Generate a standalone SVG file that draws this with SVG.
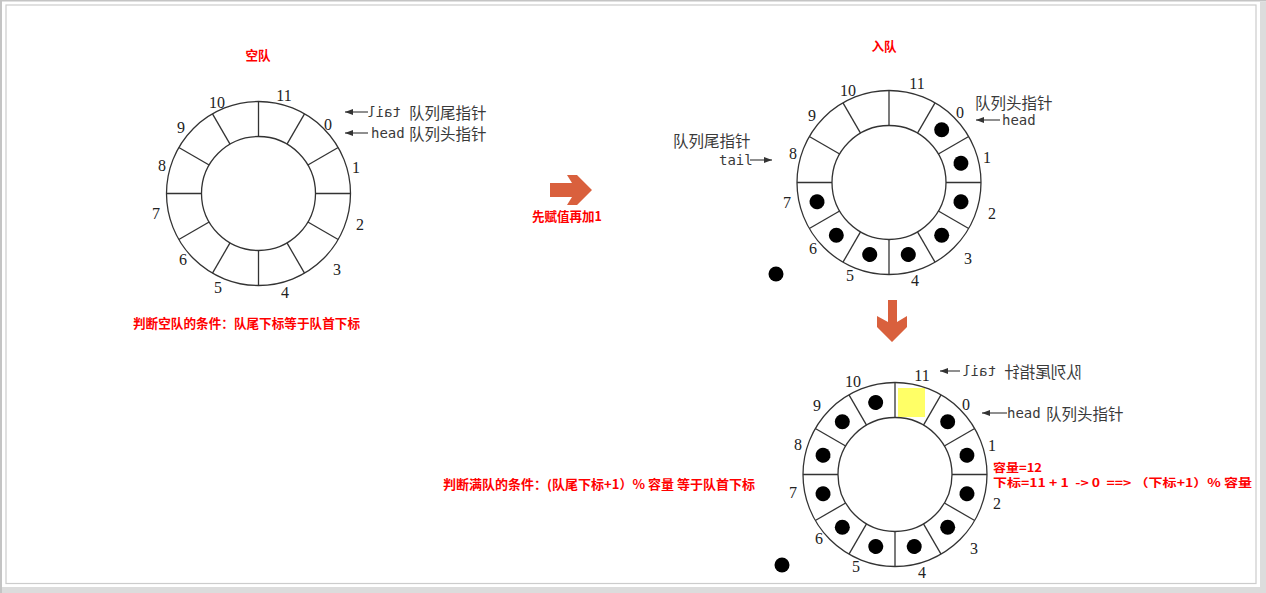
<svg xmlns="http://www.w3.org/2000/svg" xmlns:xlink="http://www.w3.org/1999/xlink" width="1266" height="593" viewBox="0 0 1266 593">
<style>
.ring{fill:none;stroke:#333;stroke-width:1.3}
.num{font-family:"Liberation Serif",serif;font-size:16px;fill:#222;text-anchor:middle;dominant-baseline:central}
.cn{font-family:"Noto Sans CJK SC","Noto Sans",sans-serif;font-size:15.5px;fill:#3a3a3a;dominant-baseline:central}
.mono{font-family:"DejaVu Sans Mono",monospace;font-size:14px;fill:#3a3a3a;dominant-baseline:central}
.red{font-family:"Noto Sans CJK SC","Noto Sans",sans-serif;font-size:12.6px;font-weight:bold;fill:#ff0000;dominant-baseline:central}
.sm{font-size:11.5px}
.ptr{stroke:#333;stroke-width:1.1;fill:none}
.big{fill:#d9603d}
.ball{fill:#000}
</style>
<defs>
<marker id="ah" markerWidth="8" markerHeight="6" refX="8" refY="3" orient="auto" markerUnits="userSpaceOnUse">
<path d="M0,0 L8,3 L0,6 z" fill="#333"/>
</marker>
<g id="ringshape">
<circle r="92" class="ring"/>
<circle r="57" class="ring"/>
<g class="ring">
<line x1="0" y1="-57" x2="0" y2="-92"/>
<line x1="0" y1="-57" x2="0" y2="-92" transform="rotate(30)"/>
<line x1="0" y1="-57" x2="0" y2="-92" transform="rotate(60)"/>
<line x1="0" y1="-57" x2="0" y2="-92" transform="rotate(90)"/>
<line x1="0" y1="-57" x2="0" y2="-92" transform="rotate(120)"/>
<line x1="0" y1="-57" x2="0" y2="-92" transform="rotate(150)"/>
<line x1="0" y1="-57" x2="0" y2="-92" transform="rotate(180)"/>
<line x1="0" y1="-57" x2="0" y2="-92" transform="rotate(210)"/>
<line x1="0" y1="-57" x2="0" y2="-92" transform="rotate(240)"/>
<line x1="0" y1="-57" x2="0" y2="-92" transform="rotate(270)"/>
<line x1="0" y1="-57" x2="0" y2="-92" transform="rotate(300)"/>
<line x1="0" y1="-57" x2="0" y2="-92" transform="rotate(330)"/>
</g>
</g>
<circle id="ball" r="7.5" class="ball"/>
</defs>

<!-- frame -->
<rect x="0" y="0" width="1266" height="593" fill="#ffffff"/>
<rect x="0" y="0" width="1266" height="1.5" fill="#c4c4c4"/>
<rect x="0" y="0" width="2" height="593" fill="#c4c4c4"/>
<rect x="1260" y="2" width="6" height="591" fill="#dcdcdc"/>
<rect x="2" y="587" width="1264" height="6" fill="#dcdcdc"/>
<rect x="6" y="5" width="1250" height="578.5" fill="#ffffff" stroke="#cccccc" stroke-width="1.2"/>

<!-- Empty queue -->
<g id="ring-empty">
<use xlink:href="#ringshape" transform="translate(258.5,193.5)"/>
<text class="num" x="284" y="95">11</text>
<text class="num" x="217" y="102">10</text>
<text class="num" x="181" y="127">9</text>
<text class="num" x="162" y="165">8</text>
<text class="num" x="156" y="213">7</text>
<text class="num" x="183" y="259">6</text>
<text class="num" x="218" y="287">5</text>
<text class="num" x="285" y="292">4</text>
<text class="num" x="337" y="269">3</text>
<text class="num" x="360" y="224">2</text>
<text class="num" x="356" y="167">1</text>
<text class="num" x="328" y="124">0</text>
</g>
<g id="label-empty-tail">
<text class="mono" x="384" y="112" text-anchor="middle" transform="translate(768,0) scale(-1,1)">tail</text>
<text class="cn" x="409" y="112">队列尾指针</text>
</g>
<g id="label-empty-head">
<text class="mono" x="371" y="133">head</text>
<text class="cn" x="409" y="133">队列头指针</text>
</g>
<text class="red" x="258" y="54" text-anchor="middle">空队</text>
<text class="red" x="133" y="322" textLength="227" lengthAdjust="spacingAndGlyphs">判断空队的条件：队尾下标等于队首下标</text>

<!-- right arrow -->
<g id="arrow-right">
<path class="big" d="M550,183 L572,183 L567,175 L577,175 L592,190 L577,205 L567,205 L572,197 L550,197 z"/>
<text class="red" x="532" y="215" textLength="70" lengthAdjust="spacingAndGlyphs">先赋值再加1</text>
</g>

<!-- Enqueue -->
<text class="red" x="884" y="45" text-anchor="middle">入队</text>
<g id="ring-enqueue">
<use xlink:href="#ringshape" transform="translate(889,182.5)"/>
<g transform="translate(889,182.5)">
<use xlink:href="#ball" transform="rotate(45) translate(0,-74.5)"/>
<use xlink:href="#ball" transform="rotate(75) translate(0,-74.5)"/>
<use xlink:href="#ball" transform="rotate(105) translate(0,-74.5)"/>
<use xlink:href="#ball" transform="rotate(135) translate(0,-74.5)"/>
<use xlink:href="#ball" transform="rotate(165) translate(0,-74.5)"/>
<use xlink:href="#ball" transform="rotate(195) translate(0,-74.5)"/>
<use xlink:href="#ball" transform="rotate(225) translate(0,-74.5)"/>
<use xlink:href="#ball" transform="rotate(255) translate(0,-74.5)"/>
</g>
<text class="num" x="917" y="83">11</text>
<text class="num" x="848" y="90">10</text>
<text class="num" x="812" y="115">9</text>
<text class="num" x="793" y="153">8</text>
<text class="num" x="787" y="202">7</text>
<text class="num" x="813" y="248">6</text>
<text class="num" x="850" y="275">5</text>
<text class="num" x="915" y="280">4</text>
<text class="num" x="968" y="258">3</text>
<text class="num" x="992" y="213">2</text>
<text class="num" x="987" y="157">1</text>
<text class="num" x="960" y="112">0</text>
</g>
<use xlink:href="#ball" x="776" y="274"/>
<g id="label-enq-head">
<text class="cn" x="975" y="102">队列头指针</text>
<text class="mono" x="1002" y="120">head</text>
</g>
<g id="label-enq-tail">
<text class="cn" x="673" y="140">队列尾指针</text>
<text class="mono" x="719" y="160">tail</text>
</g>

<!-- down arrow -->
<path id="arrow-down" class="big" d="M888,300 L897,300 L897,322 L907,316 L907,327 L892,342 L877,327 L877,316 L888,322 z"/>

<!-- Full queue -->
<g id="ring-full">
<rect x="898" y="388" width="27" height="29" fill="#ffff66"/>
<use xlink:href="#ringshape" transform="translate(895,474.5)"/>
<g transform="translate(895,474.5)">
<use xlink:href="#ball" transform="rotate(45) translate(0,-74.5)"/>
<use xlink:href="#ball" transform="rotate(75) translate(0,-74.5)"/>
<use xlink:href="#ball" transform="rotate(105) translate(0,-74.5)"/>
<use xlink:href="#ball" transform="rotate(135) translate(0,-74.5)"/>
<use xlink:href="#ball" transform="rotate(165) translate(0,-74.5)"/>
<use xlink:href="#ball" transform="rotate(195) translate(0,-74.5)"/>
<use xlink:href="#ball" transform="rotate(225) translate(0,-74.5)"/>
<use xlink:href="#ball" transform="rotate(255) translate(0,-74.5)"/>
<use xlink:href="#ball" transform="rotate(285) translate(0,-74.5)"/>
<use xlink:href="#ball" transform="rotate(315) translate(0,-74.5)"/>
<use xlink:href="#ball" transform="rotate(345) translate(0,-74.5)"/>
</g>
<text class="num" x="922" y="375">11</text>
<text class="num" x="853" y="381">10</text>
<text class="num" x="817" y="405">9</text>
<text class="num" x="798" y="444">8</text>
<text class="num" x="793" y="492">7</text>
<text class="num" x="819" y="538">6</text>
<text class="num" x="856" y="566">5</text>
<text class="num" x="922" y="572">4</text>
<text class="num" x="974" y="548">3</text>
<text class="num" x="997" y="503">2</text>
<text class="num" x="992" y="445">1</text>
<text class="num" x="966" y="404">0</text>
</g>
<use xlink:href="#ball" x="782" y="565"/>
<g id="label-full-tail">
<text x="1022" y="371" text-anchor="middle" transform="translate(2044,0) scale(-1,1)" style="dominant-baseline:central"><tspan class="cn">队列尾指针</tspan><tspan class="mono"> tail</tspan></text>
</g>
<g id="label-full-head">
<text class="mono" x="1007" y="413">head</text>
<text class="cn" x="1046" y="413">队列头指针</text>
</g>
<text class="red" x="443" y="483" textLength="312" lengthAdjust="spacingAndGlyphs">判断满队的条件：(队尾下标+1）% 容量 等于队首下标</text>
<text class="red sm" x="993" y="466.5" textLength="49" lengthAdjust="spacingAndGlyphs">容量=12</text>
<text class="red sm" x="993" y="481.5" textLength="259" lengthAdjust="spacingAndGlyphs" xml:space="preserve" style="white-space:pre">下标=11 + 1  -&gt; 0  ==&gt; （下标+1）% 容量</text>

<!-- pointer connectors -->
<g id="connectors">
<line class="ptr" x1="368" y1="112" x2="345" y2="112" marker-end="url(#ah)"/>
<line class="ptr" x1="368" y1="133" x2="345" y2="133" marker-end="url(#ah)"/>
<line class="ptr" x1="1000" y1="120" x2="976" y2="120" marker-end="url(#ah)"/>
<line class="ptr" x1="750" y1="160" x2="772" y2="160" marker-end="url(#ah)"/>
<line class="ptr" x1="960" y1="371" x2="940" y2="371" marker-end="url(#ah)"/>
<line class="ptr" x1="1007" y1="413" x2="982" y2="413" marker-end="url(#ah)"/>
</g>
</svg>
